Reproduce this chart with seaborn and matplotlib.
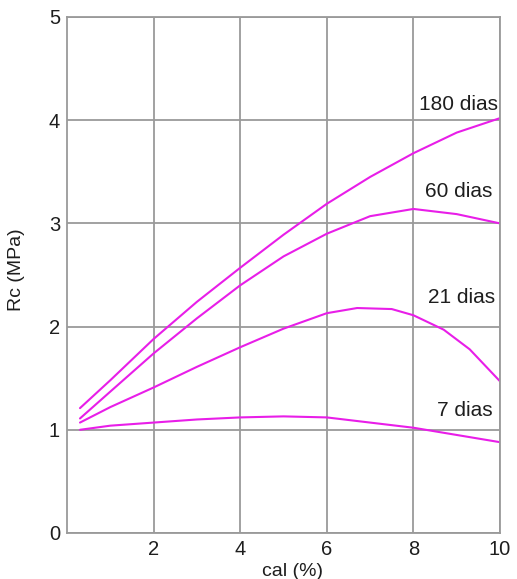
import matplotlib
matplotlib.use("Agg")
import matplotlib.pyplot as plt
import seaborn as sns
import pandas as pd

# Data
x_180 = [0.3, 1, 2, 3, 4, 5, 6, 7, 8, 9, 10]
y_180 = [1.21, 1.48, 1.88, 2.24, 2.57, 2.89, 3.19, 3.45, 3.68, 3.88, 4.02]
x_60 = [0.3, 1, 2, 3, 4, 5, 6, 7, 8, 9, 10]
y_60 = [1.11, 1.37, 1.74, 2.08, 2.40, 2.68, 2.90, 3.07, 3.14, 3.09, 3.00]
x_21 = [0.3, 1, 2, 3, 4, 5, 6, 6.7, 7.5, 8, 8.7, 9.3, 10]
y_21 = [1.07, 1.22, 1.41, 1.61, 1.80, 1.98, 2.13, 2.18, 2.17, 2.11, 1.97, 1.78, 1.47]
x_7 = [0.3, 1, 2, 3, 4, 5, 6, 7, 8, 9, 10]
y_7 = [1.00, 1.04, 1.07, 1.10, 1.12, 1.13, 1.12, 1.07, 1.02, 0.95, 0.88]

series_names = ["180 dias", "60 dias", "21 dias", "7 dias"]
label_x = [9.95, 9.83, 9.88, 9.82]
label_y = [4.15, 3.31, 2.28, 1.19]

frames = []
for name, xs, ys in zip(series_names, [x_180, x_60, x_21, x_7], [y_180, y_60, y_21, y_7]):
    frames.append(pd.DataFrame({"cal": xs, "rc": ys, "serie": name}))
df = pd.concat(frames, ignore_index=True)

sns.set_style("white")
plt.rcParams["font.family"] = ["Liberation Sans", "DejaVu Sans"]

fig = plt.figure(figsize=(5.17, 5.79), dpi=100)
ax = fig.add_axes([67 / 517, 46 / 579, 433 / 517, 516 / 579])

grid_c = "#9a9a9a"
magenta = "#e81ee8"
text_c = "#1e1e1e"

sns.lineplot(data=df, x="cal", y="rc", hue="serie", sort=False,
             palette=[magenta] * 4, linewidth=1.5, legend=False, ax=ax,
             estimator=None)

ax.set_xlim(0, 10)
ax.set_ylim(0, 5)
ax.set_xticks([2, 4, 6, 8, 10])
ax.set_yticks([0, 1, 2, 3, 4, 5])
ax.grid(True, color=grid_c, linewidth=1.3)
ax.set_axisbelow(True)
for s in ax.spines.values():
    s.set_color(grid_c)
    s.set_linewidth(1.3)
ax.tick_params(length=0, labelsize=14.5, colors=text_c, pad=5)
ax.set_xlabel("cal (%)", fontsize=14, color=text_c, labelpad=0)
ax.xaxis.set_label_coords(0.52, -0.058)
ax.set_ylabel("Rc (MPa)", fontsize=14, color=text_c)
ax.yaxis.set_label_coords(-0.097, 0.51)

for name, lx, ly in zip(series_names, label_x, label_y):
    ax.text(lx, ly, name, ha="right", va="center", fontsize=15, color=text_c)

fig.savefig("out.png", dpi=100)
